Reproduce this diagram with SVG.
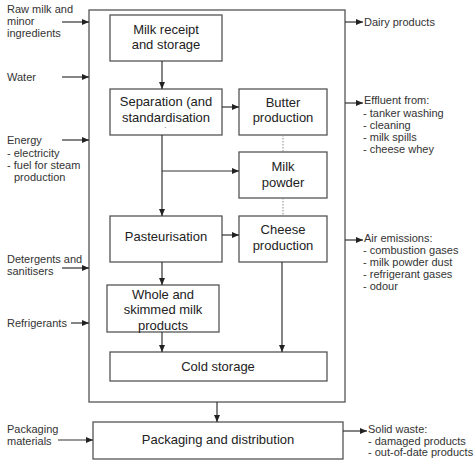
<svg xmlns="http://www.w3.org/2000/svg" width="474" height="475" viewBox="0 0 474 475">
<defs>
<marker id="ah" markerWidth="8" markerHeight="6" refX="7" refY="3" orient="auto" markerUnits="userSpaceOnUse">
<path d="M0,0 L7,3 L0,6 Z" fill="#222"/>
</marker>
<style>
.box{fill:#fff;stroke:#555;stroke-width:1.3}
.ln{fill:none;stroke:#333;stroke-width:1.2}
.ar{fill:none;stroke:#333;stroke-width:1.2;marker-end:url(#ah)}
.dot{fill:none;stroke:#888;stroke-width:1;stroke-dasharray:1.5,1.5}
.bt{font-family:"Liberation Sans",Arial,sans-serif;font-size:13px;fill:#222;text-anchor:middle;dominant-baseline:central}
.lt{font-family:"Liberation Sans",Arial,sans-serif;font-size:11px;fill:#333;dominant-baseline:central}
</style>
</defs>
<rect width="474" height="475" fill="#fff"/>
<g id="outer"><rect class="box" x="89" y="10" width="256" height="392"/></g>
<g id="milk-receipt"><rect class="box" x="110" y="15" width="112" height="46"/>
<text class="bt" x="166" y="29">Milk receipt</text><text class="bt" x="166" y="44">and storage</text></g>
<g id="separation"><rect class="box" x="110" y="89" width="112" height="46"/>
<text class="bt" x="166" y="101">Separation (and</text><text class="bt" x="166" y="117">standardisation</text>
<text class="lt" x="164" y="129" style="font-size:8px">`</text></g>
<g id="butter"><rect class="box" x="239" y="89" width="88" height="46"/>
<text class="bt" x="283" y="102">Butter</text><text class="bt" x="283" y="117">production</text></g>
<g id="milk-powder"><rect class="box" x="239" y="152" width="88" height="46"/>
<text class="bt" x="283" y="166">Milk</text><text class="bt" x="283" y="182">powder</text></g>
<g id="pasteurisation"><rect class="box" x="110" y="216" width="112" height="46"/>
<text class="bt" x="166" y="236">Pasteurisation</text></g>
<g id="cheese"><rect class="box" x="239" y="216" width="88" height="46"/>
<text class="bt" x="283" y="229">Cheese</text><text class="bt" x="283" y="245">production</text></g>
<g id="whole-milk"><rect class="box" x="107" y="285" width="112" height="47"/>
<text class="bt" x="163" y="294">Whole and</text><text class="bt" x="163" y="309">skimmed milk</text><text class="bt" x="163" y="325">products</text></g>
<g id="cold-storage"><rect class="box" x="110" y="352" width="217" height="29"/>
<text class="bt" x="218" y="366">Cold storage</text></g>
<g id="packaging"><rect class="box" x="93" y="422" width="250" height="37"/>
<text class="bt" x="218" y="439">Packaging and distribution</text></g>
<g id="inputs">
<text class="lt" x="7" y="9">Raw milk and</text><text class="lt" x="7" y="21">minor</text><text class="lt" x="7" y="33">ingredients</text>
<text class="lt" x="7" y="77">Water</text>
<text class="lt" x="7" y="140">Energy</text><text class="lt" x="7" y="153">- electricity</text><text class="lt" x="7" y="165">- fuel for steam</text><text class="lt" x="14" y="177">production</text>
<text class="lt" x="7" y="259">Detergents and</text><text class="lt" x="7" y="271">sanitisers</text>
<text class="lt" x="7" y="323">Refrigerants</text>
<text class="lt" x="7" y="429">Packaging</text><text class="lt" x="7" y="441">materials</text>
</g>
<g id="outputs">
<text class="lt" x="364" y="22">Dairy products</text>
<text class="lt" x="364" y="100">Effluent from:</text><text class="lt" x="363" y="113">- tanker washing</text><text class="lt" x="363" y="125">- cleaning</text><text class="lt" x="363" y="137">- milk spills</text><text class="lt" x="363" y="149">- cheese whey</text>
<text class="lt" x="364" y="238">Air emissions:</text><text class="lt" x="363" y="250">- combustion gases</text><text class="lt" x="363" y="262">- milk powder dust</text><text class="lt" x="363" y="274">- refrigerant  gases</text><text class="lt" x="363" y="286">- odour</text>
<text class="lt" x="368" y="429">Solid waste:</text><text class="lt" x="368" y="441">- damaged products</text><text class="lt" x="368" y="452">- out-of-date products</text>
</g>
<g id="connectors">
<path class="ar" d="M62,22 H89"/>
<path class="ar" d="M62,77 H89"/>
<path class="ar" d="M62,140 H89"/>
<path class="ar" d="M62,268 H89"/>
<path class="ar" d="M71,323 H89"/>
<path class="ar" d="M58,440 H93"/>
<path class="ar" d="M345,22 H363"/>
<path class="ar" d="M345,103 H363"/>
<path class="ar" d="M345,240 H363"/>
<path class="ar" d="M343,431 H367"/>
<path class="ar" d="M162,61 V89"/>
<path class="ar" d="M222,107 H239"/>
<path class="ar" d="M162,135 V216"/>
<path class="ar" d="M162,171 H239"/>
<path class="ar" d="M222,235 H239"/>
<path class="ar" d="M162,262 V285"/>
<path class="ar" d="M162,332 V352"/>
<path class="ar" d="M282,262 V352"/>
<path class="ar" d="M217,402 V422"/>
<path class="dot" d="M283,135 V152"/>
<path class="dot" d="M283,198 V216"/>
</g>
</svg>
